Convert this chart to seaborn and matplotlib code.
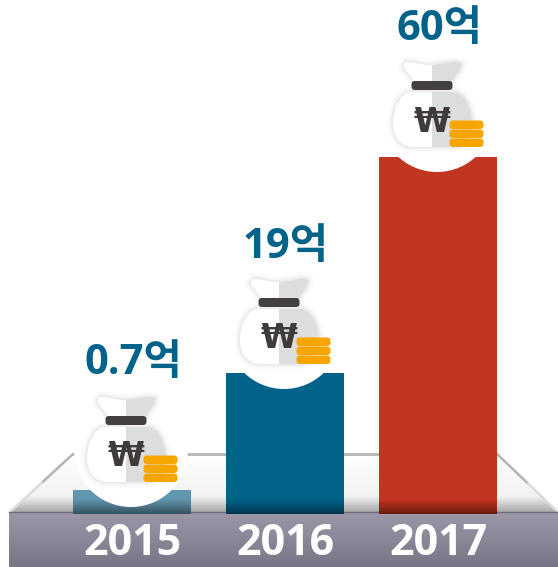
import matplotlib
matplotlib.use("Agg")
import matplotlib.pyplot as plt
import seaborn as sns
import pandas as pd
import numpy as np
from matplotlib.patches import Circle, FancyBboxPatch, PathPatch, Rectangle, Polygon
from matplotlib.path import Path
from matplotlib.colors import LinearSegmentedColormap

sns.set_theme(style="white")
plt.rcParams['font.family'] = ['Open Sans', 'Noto Sans CJK KR', 'DejaVu Sans']

# --- data ---
years = ['2015', '2016', '2017']
bar_heights = [4.0, 23.7, 60.0]   # drawn heights, the picture's bars are not to scale
labels = ['0.7억', '19억', '60억']
bar_colors = ['#6295ae', '#01628a', '#c23520']

# --- layout (pixels of the 558x567 picture) ---
W, H = 558, 567
BASE = 514
PX_PER_UNIT = 5.95
bag_dy = [0, -118, -335]
label_y = [364, 247, 30]


def grad(axis, box, c0, c1, zorder=1, clip=None):
    cmap = LinearSegmentedColormap.from_list('g', [c0, c1])
    im = axis.imshow(np.linspace(0, 1, 64)[:, None], extent=(box[0], box[1], box[3], box[2]),
                     cmap=cmap, aspect='auto', zorder=zorder, interpolation='bilinear')
    if clip is not None:
        im.set_clip_path(clip)
    return im


def body_path(dx, dy):
    verts = [(105, 427), (148, 427), (158, 427), (166, 443), (166, 458), (166, 474), (156, 482), (145, 482),
             (108, 482), (96, 482), (87, 474), (87, 458), (87, 443), (95, 427), (105, 427)]
    codes = [Path.MOVETO, Path.LINETO] + [Path.CURVE4] * 6 + [Path.LINETO] + [Path.CURVE4] * 6
    return Path([(x + dx, y + dy) for x, y in verts], codes)


def knot_path(dx, dy):
    verts = [(98, 398), (106, 395), (116, 401), (126, 400), (137, 399), (148, 395), (155, 398),
             (156, 405), (148, 410), (146, 417), (108, 417), (106, 410), (96, 405), (98, 398)]
    codes = [Path.MOVETO] + [Path.CURVE4] * 9 + [Path.LINETO] + [Path.CURVE4] * 3
    return Path([(x + dx, y + dy) for x, y in verts], codes)


def draw_bag(axis, dx, dy):
    axis.add_patch(Circle((131 + dx, 450 + dy), 57, fc='white', ec='none', zorder=3))
    for path in (body_path(dx, dy), knot_path(dx, dy)):
        for lw, a in ((8, 0.015), (5, 0.025), (2.5, 0.04)):
            axis.add_patch(PathPatch(path, fc='none', ec='black', lw=lw, alpha=a, zorder=4))
        axis.add_patch(PathPatch(path, fc='white', ec='none', zorder=5))
        half = PathPatch(path, fc='#dcdddd', ec='none', zorder=6)
        axis.add_patch(half)
        half.set_clip_path(Rectangle((126 + dx, 380 + dy), 60, 120, transform=axis.transData))
    tie = FancyBboxPatch((109 + dx, 419.5 + dy), 34, 2, boxstyle='round,pad=3.5', fc='#454040', ec='none', zorder=7)
    axis.add_patch(tie)
    for y0 in (456, 465, 474):
        coin = FancyBboxPatch((147 + dx, y0 + 3 + dy), 27, 1.5, boxstyle='round,pad=3.5', fc='#f7a600', ec='none', zorder=8)
        axis.add_patch(coin)
    axis.text(126 + dx, 457 + dy, '₩', fontsize=24, fontweight='bold', color='#403b3b',
              ha='center', va='center', zorder=9, family=['DejaVu Sans'])


fig = plt.figure(figsize=(W / 100, H / 100), dpi=100, facecolor='white')

# --- platform behind the bars ---
bg = fig.add_axes([0, 0, 1, 1], zorder=0)
bg.set_axis_off()
plate = Polygon([(73, 454), (497, 454), (558, 512), (10, 512)], closed=True, fc='none', ec='none', transform=bg.transData)
bg.add_patch(plate)
grad(bg, (0, W, 454, 496), '#ffffff', '#f2f2f2', clip=plate)
grad(bg, (0, W, 496, 512), '#f2f2f2', '#a8a8a8', clip=plate)
bg.plot([73, 497], [454, 454], color='#b4b4b4', lw=2, zorder=2)
for (xa, xb) in ((73, 42), (42, 10), (497, 528), (528, 558)):
    ya = 454 + abs(xa - (73 if xa < 200 else 497)) * 58 / (63 if xa < 200 else 61)
    yb = 454 + abs(xb - (73 if xb < 200 else 497)) * 58 / (63 if xb < 200 else 61)
    bg.plot([xa, xb], [ya, yb], color='#b4b4b4' if xa in (73, 497) else '#dcdcdc', lw=1.8, zorder=2)
grad(bg, (9, W, 512, H), '#9c98aa', '#797587', zorder=3)
bg.plot([9, W], [512, 512], color='#6f6b7a', lw=1, zorder=4)
bg.set_xlim(0, W)
bg.set_ylim(H, 0)

# --- bars ---
ax = fig.add_axes([0, (H - BASE) / H, 1, BASE / H], zorder=1)
ax.patch.set_alpha(0)
df = pd.DataFrame({'year': years, 'height': bar_heights})
sns.barplot(data=df, x='year', y='height', hue='year', palette=bar_colors, saturation=1,
            width=0.77, legend=False, linewidth=0, ax=ax)
xlim = ((0 - 132) / 153, (W - 132) / 153)
ylim = (0, BASE / PX_PER_UNIT)
black_fade = LinearSegmentedColormap.from_list('f', [(0, 0, 0, 0), (0, 0, 0, 0.45)])
for bar in ax.patches:
    x0 = bar.get_x()
    ax.imshow(np.linspace(0, 1, 32)[:, None], extent=(x0, x0 + bar.get_width(), 0, 2.4), cmap=black_fade,
              aspect='auto', zorder=3, interpolation='bilinear')
ax.set_xlim(xlim)
ax.set_ylim(ylim)
ax.set_xlabel('')
ax.set_ylabel('')
ax.set_yticks([])
ax.tick_params(axis='x', length=0, pad=6, labelsize=31, labelcolor='white')
for t in ax.get_xticklabels():
    t.set_fontweight('bold')
sns.despine(ax=ax, left=True, bottom=True)

# --- money bags and value labels ---
fg = fig.add_axes([0, 0, 1, 1], zorder=2)
fg.set_axis_off()
for i, dy in enumerate(bag_dy):
    draw_bag(fg, 153 * i, dy)
    fg.text(133 + 153 * i, label_y[i], labels[i], fontsize=30, fontweight='bold', color='#01628a',
            ha='center', va='center', zorder=10)
fg.set_xlim(0, W)
fg.set_ylim(H, 0)

fig.savefig('out.png', dpi=100)
